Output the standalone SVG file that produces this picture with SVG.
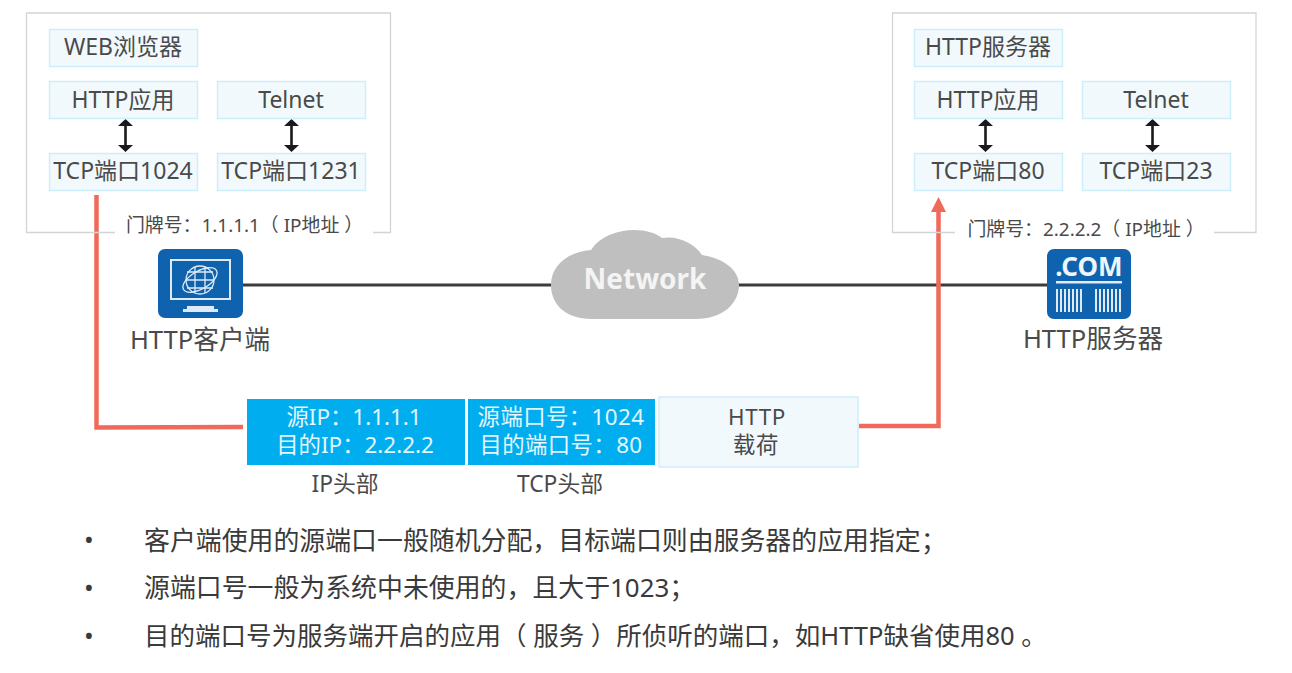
<svg xmlns="http://www.w3.org/2000/svg" width="1292" height="673" viewBox="0 0 1292 673">
<style>
text{font-family:"Noto Sans","Noto Sans CJK SC",sans-serif;fill:#4a4a4a;text-anchor:middle}
.frame{fill:none;stroke:#d4d4d4;stroke-width:1.3}
.lb{fill:#f1f9fd;stroke:#cdeefb;stroke-width:1.5}
.t{font-size:23px}
.door{font-size:18.900px}
.cap{font-size:22.800px}
.blue{fill:#00aeef}
.w{fill:#e4f6fe;font-size:22.400px}
.bul{text-anchor:start;font-size:25.900px;fill:#3a3a3a}
.link{stroke:#3c3c3c;stroke-width:3;fill:none}
.red{stroke:#ef6a5b;stroke-width:4.500px;fill:none}
.bi{stroke:#1a1a1a;stroke-width:2.600px;fill:none}
.head{fill:#1a1a1a}
.ic{fill:none;stroke:#dfeaf5}
</style>
<rect width="1292" height="673" fill="#fff"/>
<g id="connectors">
<path class="link" d="M243,285H1047"/>
<path class="red" d="M96.500,195V427.500L243,427"/>
<path class="red" d="M859,426H938.500V212"/>
<path d="M938.500,197L931,212H946z" fill="#ef6a5b"/>
<path class="bi" d="M125.500,123V148M291.500,123V148M985.500,123V148M1152.500,123V148"/>
<path class="head" d="M118,126L125.500,119L133,126zM118,145L125.500,152L133,145zM284,126L291.500,119L299,126zM284,145L291.500,152L299,145zM978,126L985.500,119L993,126zM978,145L985.500,152L993,145zM1145,126L1152.500,119L1160,126zM1145,145L1152.500,152L1160,145z"/>
</g>
<g id="client-frame">
<path class="frame" d="M115,232.500H26.500V13H390.500V232.500H373"/>
<text class="door" x="241" y="232" dx="3.500">门牌号：1.1.1.1（ IP地址 ）</text>
</g>
<g id="server-frame">
<path class="frame" d="M955,232.500H892.500V13H1256V232.500H1214"/>
<text class="door" x="1086" y="236">门牌号：2.2.2.2（ IP地址 ）</text>
</g>
<g id="web"><rect class="lb" x="49.500" y="29.500" width="148" height="37"/><text class="t" x="123" y="55">WEB浏览器</text></g>
<g id="http-app-l"><rect class="lb" x="49.500" y="81.500" width="148" height="37"/><text class="t" x="123" y="107.500">HTTP应用</text></g>
<g id="telnet-l"><rect class="lb" x="217.500" y="81.500" width="148" height="37"/><text class="t" x="291" y="107.500">Telnet</text></g>
<g id="tcp1024"><rect class="lb" x="49.500" y="153.500" width="148" height="37"/><text class="t" x="123" y="179">TCP端口1024</text></g>
<g id="tcp1231"><rect class="lb" x="217.500" y="153.500" width="148" height="37"/><text class="t" x="291" y="179">TCP端口1231</text></g>
<g id="http-server-box"><rect class="lb" x="914.500" y="29.500" width="148" height="37"/><text class="t" x="988" y="55">HTTP服务器</text></g>
<g id="http-app-r"><rect class="lb" x="914.500" y="81.500" width="148" height="37"/><text class="t" x="988" y="107.500">HTTP应用</text></g>
<g id="telnet-r"><rect class="lb" x="1082.500" y="81.500" width="148" height="37"/><text class="t" x="1156" y="107.500">Telnet</text></g>
<g id="tcp80"><rect class="lb" x="914.500" y="153.500" width="148" height="37"/><text class="t" x="988" y="179">TCP端口80</text></g>
<g id="tcp23"><rect class="lb" x="1082.500" y="153.500" width="148" height="37"/><text class="t" x="1156" y="179">TCP端口23</text></g>
<g id="client">
<rect x="158" y="249" width="85" height="69" rx="7" fill="#0f62ae"/>
<rect class="ic" x="171" y="260" width="59" height="39" stroke-width="2"/>
<g class="ic" stroke-width="1.300"><ellipse cx="200" cy="280" rx="14" ry="14"/><ellipse cx="200" cy="280" rx="19" ry="9" transform="rotate(-30 200 280)"/><path d="M187,272H213M186,280H214M187,288H213M195,267V293M205,267V293"/></g>
<path d="M187,306H214V309H218V312H183V309H187z" fill="#dfeaf5"/>
<text x="200" y="349" style="font-size:25.600px">HTTP客户端</text>
</g>
<g id="server">
<rect x="1047" y="249" width="84" height="70" rx="7" fill="#0f62ae"/>
<text x="1089" y="276" style="font-size:26px;font-weight:700;fill:#eef5fb">.COM</text>
<rect x="1056" y="281" width="66" height="2.500" fill="#dfeaf5"/>
<path d="M1057,289V312M1061,289V312M1065,289V312M1069,289V312M1073,289V312M1077,289V312M1081,289V312M1096,289V312M1100,289V312M1104,289V312M1108,289V312M1112,289V312M1116,289V312M1120,289V312" stroke="#dfeaf5" stroke-width="2"/>
<text x="1093" y="348" style="font-size:25.600px">HTTP服务器</text>
</g>
<g id="network">
<path d="M592,319C565,319 551,304 551,285C551,265 568,252 591,250C600,236 618,230 634,230C646,230 656,233 662,238C678,235 695,244 702,255C722,258 739,269 739,285C739,304 722,319 696,319z" fill="#bfbfbf"/>
<text x="645" y="289" style="font-size:28px;font-weight:700;fill:#f4f4f4">Network</text>
</g>
<g id="ip-header"><rect class="blue" x="247" y="399" width="218" height="66"/><text class="w"><tspan x="354" y="425">源IP：1.1.1.1</tspan><tspan x="355" y="453">目的IP：2.2.2.2</tspan></text></g>
<g id="tcp-header"><rect class="blue" x="468" y="399" width="187" height="66"/><text class="w" style="letter-spacing:.4px"><tspan x="561" y="425">源端口号：1024</tspan><tspan x="561" y="453">目的端口号：80</tspan></text></g>
<g id="payload"><rect class="lb" x="659" y="397" width="199" height="70"/><text class="w" style="fill:#4a4a4a;letter-spacing:.6px"><tspan x="757" y="425">HTTP</tspan><tspan x="756" y="453">载荷</tspan></text></g>
<text class="cap" x="345" y="492">IP头部</text>
<text class="cap" x="560" y="492">TCP头部</text>
<g id="notes">
<text class="bul" x="84" y="549">•</text><text class="bul" x="144" y="550">客户端使用的源端口一般随机分配，目标端口则由服务器的应用指定；</text>
<text class="bul" x="84" y="597">•</text><text class="bul" x="144" y="597">源端口号一般为系统中未使用的，且大于1023；</text>
<text class="bul" x="84" y="645">•</text><text class="bul" x="144" y="645" style="font-size:25.500px">目的端口号为服务端开启的应用（ 服务 ）所侦听的端口，如HTTP缺省使用80 。</text>
</g>
</svg>
